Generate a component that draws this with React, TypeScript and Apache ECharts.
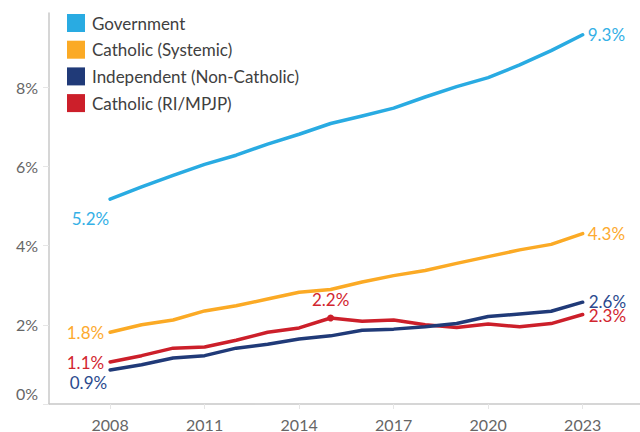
import React, { useEffect, useRef } from "react";
import * as echarts from "echarts";

const years = [2008, 2009, 2010, 2011, 2012, 2013, 2014, 2015, 2016, 2017, 2018, 2019, 2020, 2021, 2022, 2023];
const government = [5.17, 5.48, 5.77, 6.05, 6.28, 6.56, 6.81, 7.08, 7.27, 7.47, 7.75, 8.01, 8.24, 8.56, 8.92, 9.32];
const catholicSystemic = [1.81, 2.0, 2.12, 2.35, 2.48, 2.65, 2.82, 2.89, 3.08, 3.24, 3.37, 3.55, 3.72, 3.89, 4.03, 4.3];
const independent = [0.86, 0.99, 1.16, 1.22, 1.41, 1.51, 1.64, 1.72, 1.86, 1.89, 1.95, 2.03, 2.21, 2.27, 2.34, 2.57];
const catholicRI = [1.06, 1.22, 1.41, 1.44, 1.61, 1.81, 1.92, 2.17, 2.09, 2.12, 2.0, 1.93, 2.02, 1.95, 2.03, 2.26];
const seriesNames = ["Government", "Catholic (Systemic)", "Independent (Non-Catholic)", "Catholic (RI/MPJP)"];
const xTickYears = [2008, 2011, 2014, 2017, 2020, 2023];
const yTickValues = [0, 2, 4, 6, 8];

const FONT = "Lato, 'Noto Sans', sans-serif";
const colors = ["#29abe2", "#fbaa25", "#203a78", "#cc1f2a"];
const labelColors = ["#35b0e6", "#fdaa2f", "#2b4a8e", "#d2262f"];

type LabelSpec = { idx: number; position: string; distance: number; offset?: number[] };

function buildData(values: number[], color: string, specs: LabelSpec[], markerIdx: number[] = []) {
  return values.map((v, i) => {
    const item: any = { value: [years[i], v] };
    const spec = specs.find((s) => s.idx === i);
    if (spec) {
      item.label = {
        show: true,
        position: spec.position,
        distance: spec.distance,
        offset: spec.offset || [0, 0],
        formatter: (p: any) => p.value[1].toFixed(1) + "%",
        color,
        fontFamily: FONT,
        fontSize: 17,
      };
    }
    if (markerIdx.includes(i)) {
      item.symbolSize = 7;
    }
    return item;
  });
}

export default function App() {
  const ref = useRef<HTMLDivElement>(null);
  useEffect(() => {
    if (!ref.current) return;
    const chart = echarts.init(ref.current, null, { renderer: "svg" });
    const last = years.length - 1;
    const mk = (name: string, values: number[], i: number, specs: LabelSpec[], markers: number[] = []) => ({
      name,
      type: "line",
      data: buildData(values, labelColors[i], specs, markers),
      symbol: "circle",
      symbolSize: 0,
      showSymbol: true,
      lineStyle: { width: 3.5, color: colors[i], cap: "round", join: "round" },
      itemStyle: { color: colors[i] },
      emphasis: { disabled: true },
      z: 10 - i,
    });
    chart.setOption({
      animation: false,
      color: colors,
      grid: { left: 49, right: 0, top: 13, bottom: 28, containLabel: false },
      legend: {
        orient: "vertical",
        left: 67,
        top: 14,
        padding: 0,
        itemWidth: 18,
        itemHeight: 18,
        itemGap: 8.7,
        icon: "rect",
        data: seriesNames,
        selectedMode: false,
        textStyle: { fontFamily: FONT, fontSize: 17, color: "#404040", padding: [0, 0, 0, 2] },
      },
      xAxis: {
        type: "value",
        min: 2006.06,
        max: 2024.82,
        splitLine: { show: false },
        axisLine: { show: true, lineStyle: { color: "#c8c8c8", width: 1.5 } },
        axisTick: { show: true, customValues: xTickYears, length: 5, lineStyle: { color: "#e6e6e6" } },
        axisLabel: {
          customValues: xTickYears,
          formatter: (v: number) => String(v),
          fontFamily: FONT,
          fontSize: 16,
          color: "#666666",
          margin: 12,
        },
      },
      yAxis: {
        type: "value",
        min: 0,
        max: 9.87,
        splitLine: { show: false },
        axisLine: { show: true, lineStyle: { color: "#c8c8c8", width: 1.5 } },
        axisTick: { show: true, customValues: yTickValues, length: 6, lineStyle: { color: "#e6e6e6" } },
        axisLabel: {
          customValues: yTickValues,
          formatter: (v: number) => (v === 0 ? "{z|0%}" : v + "%"),
          rich: {
            z: { padding: [0, 0, 22, 0], fontFamily: FONT, fontSize: 16, color: "#666666" },
          },
          fontFamily: FONT,
          fontSize: 16,
          color: "#666666",
          margin: 11,
        },
      },
      series: [
        mk(seriesNames[0], government, 0, [
          { idx: 0, position: "left", distance: 1, offset: [0, 19] },
          { idx: last, position: "right", distance: 5 },
        ]),
        mk(seriesNames[1], catholicSystemic, 1, [
          { idx: 0, position: "left", distance: 6 },
          { idx: last, position: "right", distance: 5 },
        ]),
        mk(seriesNames[2], independent, 2, [
          { idx: 0, position: "left", distance: 3, offset: [0, 13] },
          { idx: last, position: "right", distance: 6, offset: [0, -1] },
        ]),
        mk(
          seriesNames[3],
          catholicRI,
          3,
          [
            { idx: 0, position: "left", distance: 6 },
            { idx: 7, position: "top", distance: 7 },
            { idx: last, position: "right", distance: 6, offset: [0, 1] },
          ],
          [7]
        ),
      ],
    });
    return () => chart.dispose();
  }, []);
  return (
    <div
      ref={ref}
      style={{ position: "fixed", left: 0, top: 0, width: 640, height: 432, background: "#ffffff" }}
    />
  );
}
